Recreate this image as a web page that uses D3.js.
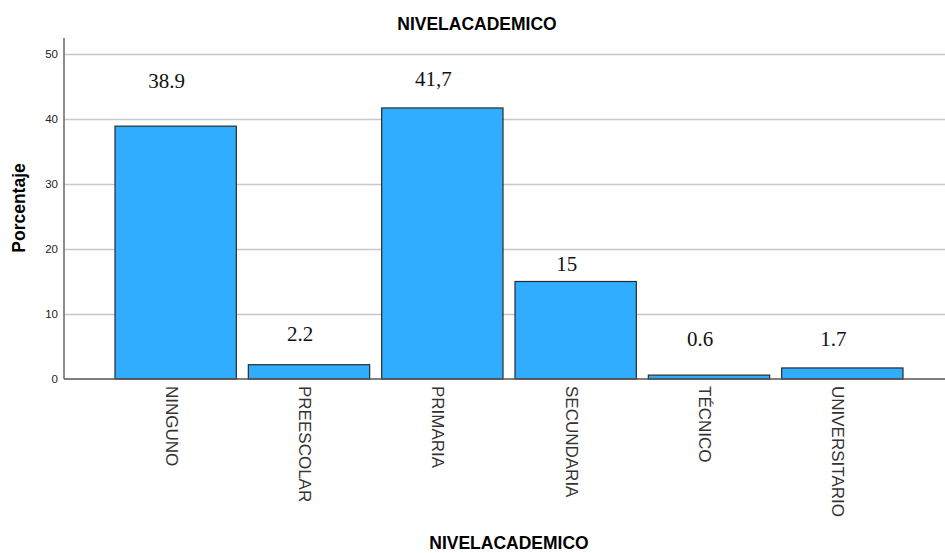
<!DOCTYPE html>
<html>
<head>
<meta charset="utf-8">
<script src="https://cdn.jsdelivr.net/npm/d3@7"></script>
<style>
  body { margin: 0; background: #fff; }
  text { font-family: Arial, "Liberation Sans", sans-serif; }
</style>
</head>
<body>
<div id="chart"></div>
<script>
// data
var categories = ['NINGUNO', 'PREESCOLAR', 'PRIMARIA', 'SECUNDARIA', 'TÉCNICO', 'UNIVERSITARIO'];
var percents = [38.9, 2.2, 41.7, 15, 0.6, 1.7];
var labelTexts = ['38.9', '2.2', '41,7', '15', '0.6', '1.7'];
// where the hand-placed value labels sit, in percent units
var labelAt = [45.85, 7.0, 46.2, 17.8, 6.15, 6.15];
var yTicks = [0, 10, 20, 30, 40, 50];

var
  w = 945,
  h = 553,
  left = 64,
  x = d3.scaleBand().domain(categories).range([109, 909]).paddingInner(0.09).paddingOuter(0.045),
  y = d3.scaleLinear().domain([0, 50]).range([379, 54]);

var chart = d3.select('#chart')
  .append('svg')
  .attr('width', w)
  .attr('height', h);

// gridlines
chart.append('g').selectAll('line')
  .data(yTicks.filter(function(d) { return d > 0; }))
  .enter().append('line')
    .attr('x1', left).attr('x2', w)
    .attr('y1', function(d) { return y(d) + 0.5; })
    .attr('y2', function(d) { return y(d) + 0.5; })
    .attr('stroke', '#c8c8c8')
    .attr('stroke-width', 1.3);

// bars
chart.append('g').selectAll('rect')
  .data(percents)
  .enter().append('rect')
    .attr('x', function(d, i) { return x(categories[i]); })
    .attr('y', function(d) { return y(d); })
    .attr('width', x.bandwidth())
    .attr('height', function(d) { return y(0) - y(d); })
    .attr('fill', '#31adff')
    .attr('stroke', '#2b2b2b')
    .attr('stroke-width', 1.2);

// y axis
var yAxis = d3.axisLeft(y).tickValues(yTicks).tickSize(5).tickPadding(3);
var yg = chart.append('g').attr('transform', 'translate(' + left + ',0)').call(yAxis);
yg.select('.domain').remove();
yg.selectAll('.tick line').remove();
yg.selectAll('text').attr('font-size', 11.5).attr('fill', '#222').attr('x', -6);
chart.append('line')
  .attr('x1', left).attr('x2', left)
  .attr('y1', 38).attr('y2', y(0))
  .attr('stroke', '#666').attr('stroke-width', 1.5);

// x axis, labels turned to read downwards
var xAxis = d3.axisBottom(x).tickSize(0).tickPadding(0);
var xg = chart.append('g').attr('transform', 'translate(0,' + y(0) + ')').call(xAxis);
xg.select('.domain').remove();
xg.selectAll('text')
  .attr('font-size', 17)
  .attr('fill', '#333')
  .attr('text-anchor', 'start')
  .attr('dy', null)
  .attr('y', 0)
  .attr('transform', 'rotate(90) translate(7,10)');
chart.append('line')
  .attr('x1', left).attr('x2', w)
  .attr('y1', y(0)).attr('y2', y(0))
  .attr('stroke', '#555').attr('stroke-width', 1.5);

// value labels
chart.append('g').selectAll('text')
  .data(labelTexts)
  .enter().append('text')
    .attr('x', function(d, i) { return x(categories[i]) + x.bandwidth() / 2 - 9; })
    .attr('y', function(d, i) { return y(labelAt[i]); })
    .attr('dy', '0.35em')
    .attr('text-anchor', 'middle')
    .style('font-family', '"Liberation Serif", "Times New Roman", serif')
    .attr('font-size', 21)
    .attr('fill', '#111')
    .text(function(d) { return d; });

// titles
chart.append('text')
  .attr('x', 477).attr('y', 30)
  .attr('text-anchor', 'middle')
  .attr('font-size', 17.5).attr('font-weight', 'bold')
  .text('NIVELACADEMICO');

chart.append('text')
  .attr('x', 509).attr('y', 549)
  .attr('text-anchor', 'middle')
  .attr('font-size', 17.5).attr('font-weight', 'bold')
  .text('NIVELACADEMICO');

chart.append('text')
  .attr('transform', 'translate(25,208) rotate(-90)')
  .attr('text-anchor', 'middle')
  .attr('font-size', 17.5).attr('font-weight', 'bold')
  .text('Porcentaje');
</script>
</body>
</html>
